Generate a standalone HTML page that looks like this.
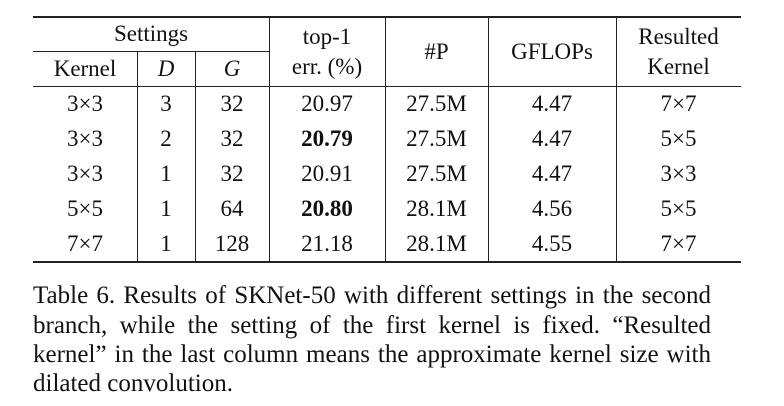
<!DOCTYPE html>
<html><head><meta charset="utf-8"><style>
body{margin:0;width:784px;height:406px;background:#fff;overflow:hidden;font-family:"Liberation Serif",serif;color:#111;}
.l{position:absolute;background:#222;}
.t{position:absolute;font-size:23px;text-align:center;line-height:24px;white-space:nowrap;}
.cl{position:absolute;left:33px;width:678px;font-size:25px;line-height:26px;text-align:justify;text-align-last:justify;white-space:nowrap;}
</style></head><body>
<div id="tbl">
<div class="l" style="left:33px;top:16px;width:708px;height:1.5px"></div>
<div class="l" style="left:33px;top:51px;width:236px;height:1px"></div>
<div class="l" style="left:33px;top:86px;width:708px;height:1px"></div>
<div class="l" style="left:33px;top:261px;width:708px;height:1.5px"></div>
<div class="l" style="left:137px;top:52px;width:1px;height:210px"></div>
<div class="l" style="left:195px;top:52px;width:1px;height:210px"></div>
<div class="l" style="left:269px;top:17px;width:1px;height:245px"></div>
<div class="l" style="left:385px;top:17px;width:1px;height:245px"></div>
<div class="l" style="left:488px;top:17px;width:1px;height:245px"></div>
<div class="l" style="left:616px;top:17px;width:1px;height:245px"></div>
<div class="t" style="left:33px;width:236px;top:22px">Settings</div>
<div class="t" style="left:33px;width:104px;top:57px">Kernel</div>
<div class="t" style="left:137px;width:58px;top:57px;font-style:italic">D</div>
<div class="t" style="left:195px;width:74px;top:57px;font-style:italic">G</div>
<div class="t" style="left:269px;width:116px;top:22px;line-height:30px">top-1<br>err. (%)</div>
<div class="t" style="left:385px;width:103px;top:40px">#P</div>
<div class="t" style="left:488px;width:128px;top:40px">GFLOPs</div>
<div class="t" style="left:616px;width:125px;top:22px;line-height:30px">Resulted<br>Kernel</div>
</div>
<div>
<div class="cl" style="top:283px">Table 6. Results of SKNet-50 with different settings in the second</div>
<div class="cl" style="top:313px">branch, while the setting of the first kernel is fixed. &ldquo;Resulted</div>
<div class="cl" style="top:342px">kernel&rdquo; in the last column means the approximate kernel size with</div>
<div class="cl" style="top:371px;text-align-last:left">dilated convolution.</div>
</div>
<script>
const kernels=["3×3","3×3","3×3","5×5","7×7"];
const dils=["3","2","1","1","1"];
const groups=["32","32","32","64","128"];
const errs=["20.97","20.79","20.91","20.80","21.18"];
const bold=[false,true,false,true,false];
const params=["27.5M","27.5M","27.5M","28.1M","28.1M"];
const flops=["4.47","4.47","4.47","4.56","4.55"];
const resulted=["7×7","5×5","3×3","5×5","7×7"];
const cols=[[33,104,kernels,'kernel-cell'],[137,58,dils,'dilation-cell'],[195,74,groups,'group-cell'],[269,116,errs,'error-cell'],[385,103,params,'params-cell'],[488,128,flops,'gflops-cell'],[616,125,resulted,'resulted-kernel-cell']];
const tbl=document.getElementById('tbl');
for(let r=0;r<kernels.length;r++){
  cols.forEach(c=>{
    const d=document.createElement('div');
    d.className='t';
    d.style.left=c[0]+'px';d.style.width=c[1]+'px';
    d.style.top=(92+r*35)+'px';
    d.textContent=c[2][r];
    if(c[3]==='error-cell'&&bold[r])d.style.fontWeight='bold';
    
    
    tbl.appendChild(d);
  });
}
</script>
</body></html>
